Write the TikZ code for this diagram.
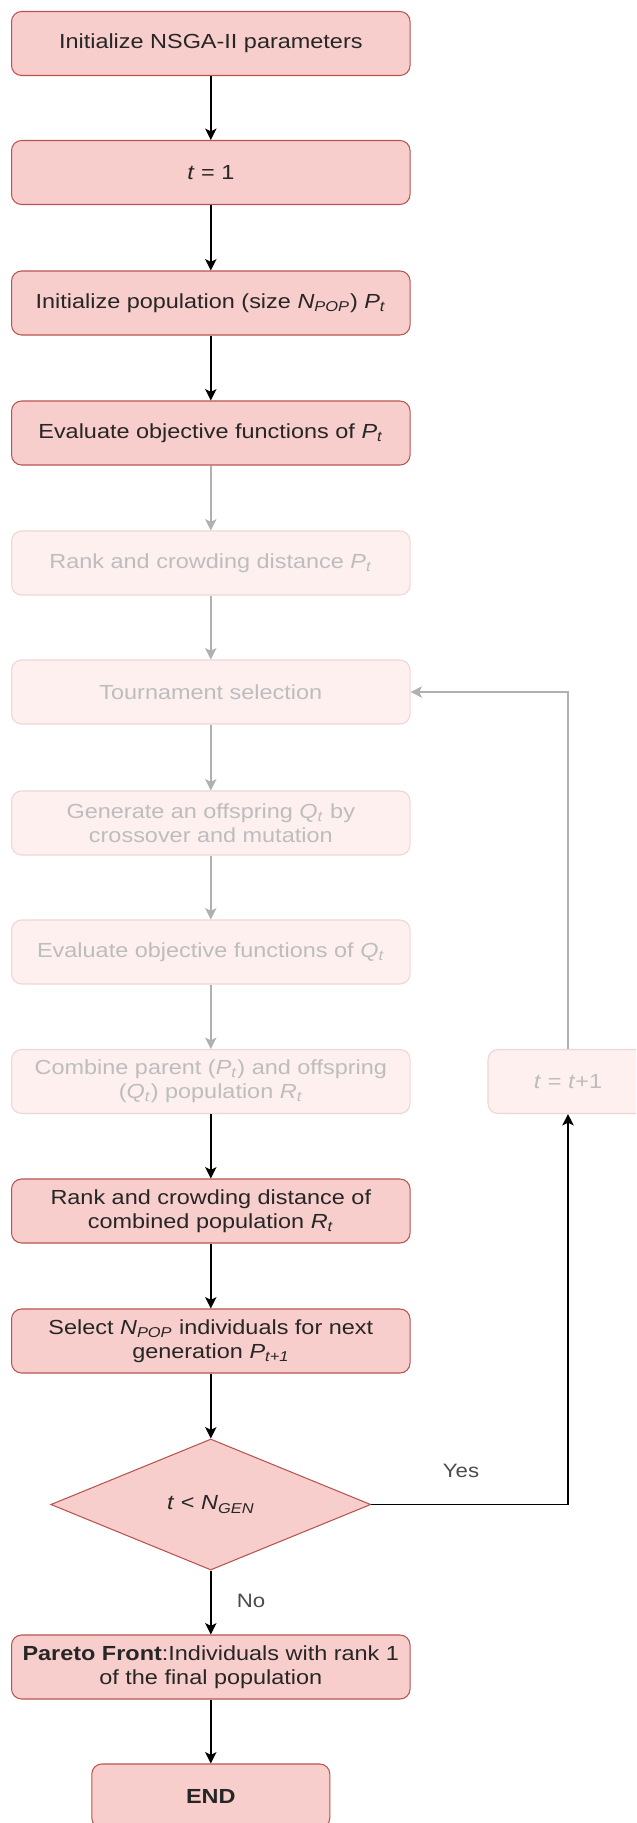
\documentclass[tikz,border=0pt]{standalone}
\usepackage{fontspec}
\setmainfont{Liberation Sans}[FakeStretch=1.15]
\usetikzlibrary{arrows.meta,shapes.geometric}
\definecolor{boxfill}{HTML}{F8CECC}
\definecolor{boxline}{HTML}{B85450}
\definecolor{fadefill}{HTML}{FDF0EF}
\definecolor{fadeline}{HTML}{EED6D5}
\definecolor{fadetext}{HTML}{BDBDBD}
\definecolor{fadearrow}{HTML}{B0B0B0}
\newcommand{\vb}[1]{\textit{#1}}
\newcommand{\lowix}[1]{\textsubscript{\textit{#1}}}
\tikzset{
  stepbox/.style={draw=boxline, fill=boxfill, rounded corners=0.2cm, line width=0.6pt,
    minimum width=7.97cm, minimum height=1.28cm, align=center, text=black!85,
    font=\fontsize{11.6}{13.6}\selectfont},
  fadebox/.style={stepbox, draw=fadeline, fill=fadefill, text=fadetext},
  decision/.style={diamond, draw=boxline, fill=boxfill, line width=0.6pt, aspect=2.44,
    minimum width=6.4cm, minimum height=2.62cm, inner sep=0pt, text=black!85,
    font=\fontsize{11.6}{13.6}\selectfont},
  flow/.style={-{Stealth[length=6.5pt,width=6.5pt,inset=1.6pt]}, line width=0.8pt, black},
  fadeflow/.style={flow, fadearrow},
  tag/.style={text=black!70, font=\fontsize{11}{13}\selectfont},
}

\begin{document}
\begin{tikzpicture}
			%%%%% START %%%%%
			\fill[white] (0, 0) rectangle (12.72, -36.46);
			\useasboundingbox (0, 0) rectangle (12.72, -36.46);
			\clip (0, 0) rectangle (12.72, -36.46);
			
			\node[stepbox] (init) at (4.216, -0.87) {Initialize NSGA-II parameters};
			\node[stepbox] (tone) at (4.216, -3.45) {\vb{t} = 1};
			\node[stepbox] (pop) at (4.216, -6.06) {Initialize population (size \vb{N}\lowix{POP}) \vb{P}\lowix{t}};
			\node[stepbox] (evalp) at (4.216, -8.66) {Evaluate objective functions of \vb{P}\lowix{t}};
			
			\node[fadebox] (rankp) at (4.216, -11.26) {Rank and crowding distance \vb{P}\lowix{t}};
			\node[fadebox] (select) at (4.216, -13.84) {Tournament selection};
			\node[fadebox] (offspring) at (4.216, -16.46) {Generate an offspring \vb{Q}\lowix{t} by\\crossover and mutation};
			\node[fadebox] (evalq) at (4.216, -19.04) {Evaluate objective functions of \vb{Q}\lowix{t}};
			\node[fadebox] (combine) at (4.216, -21.63) {Combine parent (\vb{P}\lowix{t}) and offspring\\(\vb{Q}\lowix{t}) population \vb{R}\lowix{t}};
			\node[fadebox, minimum width=3.2cm] (tnext) at (11.36, -21.63) {\vb{t} = \vb{t}+1};
			
			\node[stepbox] (rankr) at (4.216, -24.22) {Rank and crowding distance of\\combined population \vb{R}\lowix{t}};
			\node[stepbox] (pick) at (4.216, -26.82) {Select \vb{N}\lowix{POP} individuals for next\\generation \vb{P}\lowix{t+1}};
			\node[decision] (check) at (4.216, -30.09) {\vb{t} < \vb{N}\lowix{GEN}};
			\node[stepbox] (front) at (4.216, -33.34) {\textbf{Pareto Front}:Individuals with rank 1\\of the final population};
			\node[stepbox, minimum width=4.76cm] (stop) at (4.216, -35.92) {\textbf{END}};
			
			\draw[flow] (init) -- (tone);
			\draw[flow] (tone) -- (pop);
			\draw[flow] (pop) -- (evalp);
			\draw[fadeflow] (evalp) -- (rankp);
			\draw[fadeflow] (rankp) -- (select);
			\draw[fadeflow] (select) -- (offspring);
			\draw[fadeflow] (offspring) -- (evalq);
			\draw[fadeflow] (evalq) -- (combine);
			\draw[flow] (combine) -- (rankr);
			\draw[flow] (rankr) -- (pick);
			\draw[flow] (pick) -- (check);
			\draw[flow] (check) -- (front);
			\draw[flow] (front) -- (stop);
			
			\draw[flow] (check.east) -| (tnext.south);
			\draw[fadeflow] (tnext.north) |- (select.east);
			
			\node[tag] (yes) at (9.22, -29.42) {Yes};
			\node[tag] (no) at (5.02, -32.02) {No};
			%%%%% END %%%%%
\end{tikzpicture}
\end{document}
